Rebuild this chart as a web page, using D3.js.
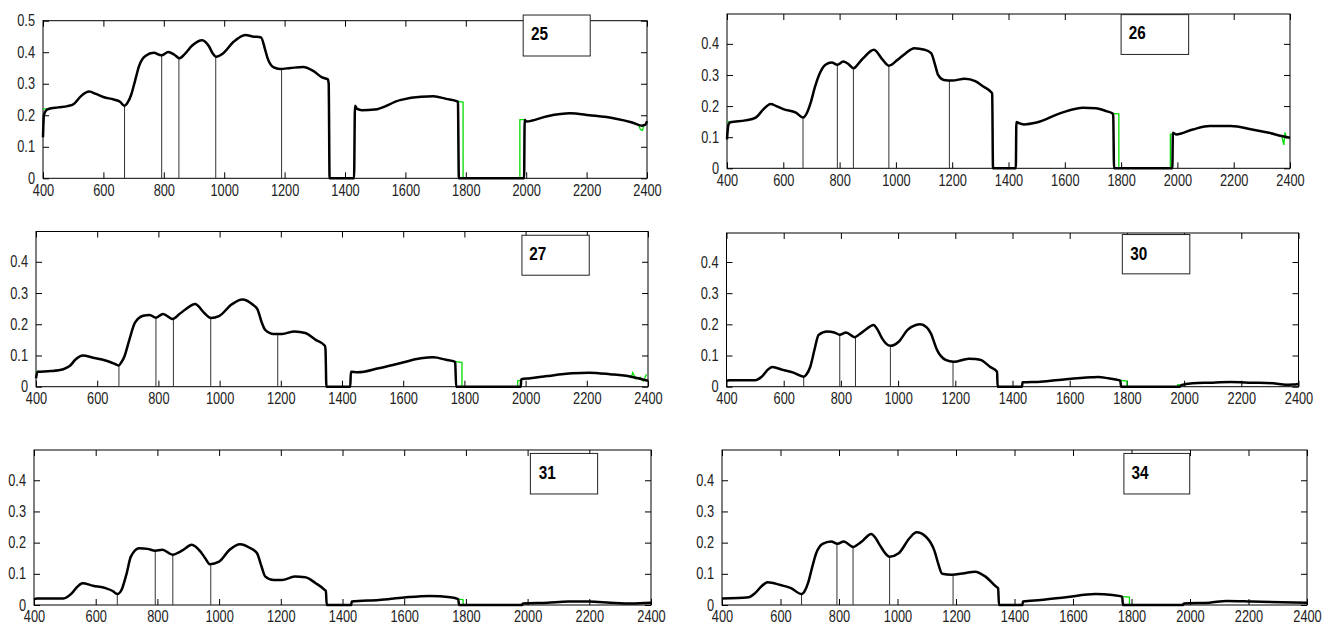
<!DOCTYPE html>
<html>
<head>
<meta charset="utf-8">
<script src="https://cdn.jsdelivr.net/npm/d3@7"></script>
<style>
  html, body { margin: 0; padding: 0; background: #fff; }
  svg { display: block; }
  .axis text { font-family: "Liberation Sans", Arial, sans-serif; font-size: 16px; fill: #222; }
  .axis line { stroke: #000; stroke-width: 1; }
  .sample-label { font-family: "Liberation Sans", Arial, sans-serif; font-weight: bold; font-size: 18px; fill: #000; }
</style>
</head>
<body>
<svg id="fig" width="1323" height="623"></svg>
<script>
// Reflectance spectra (wavelength nm, reflectance) for six samples.
const sampleNames = ["25", "26", "27", "30", "31", "34"];

const xTickValues = [400, 600, 800, 1000, 1200, 1400, 1600, 1800, 2000, 2200, 2400];
const yTicksFirst = [0, 0.1, 0.2, 0.3, 0.4, 0.5];
const yTicksOther = [0, 0.1, 0.2, 0.3, 0.4];

const spectrum25 = [[400,0.13],[403,0.2],[410,0.215],[418,0.22],[450,0.225],[481,0.229],[502,0.236],[525,0.26],[553,0.275],[575,0.268],[600,0.258],[634,0.25],[655,0.243],[669,0.23],[680,0.24],[692,0.265],[705,0.31],[718,0.356],[739,0.388],[767,0.398],[792,0.39],[815,0.401],[835,0.392],[852,0.381],[870,0.395],[895,0.422],[927,0.438],[950,0.418],[962,0.396],[973,0.386],[996,0.396],[1031,0.433],[1070,0.455],[1094,0.45],[1122,0.447],[1135,0.41],[1143,0.383],[1164,0.352],[1185,0.347],[1220,0.35],[1261,0.353],[1296,0.34],[1324,0.32],[1343,0.314],[1346,0.3],[1349,0],[1430,0],[1433,0.23],[1440,0.22],[1456,0.216],[1498,0.218],[1582,0.248],[1652,0.259],[1693,0.26],[1735,0.252],[1772,0.244],[1774,0.24],[1777,0],[1993,0],[1995,0.186],[2000,0.18],[2070,0.197],[2145,0.206],[2209,0.2],[2293,0.19],[2348,0.178],[2383,0.167],[2395,0.17],[2400,0.181]];

const spectrum26 = [[400,0.093],[405,0.14],[412,0.148],[465,0.154],[502,0.163],[530,0.19],[555,0.207],[575,0.2],[600,0.19],[645,0.179],[670,0.163],[685,0.18],[697,0.21],[712,0.26],[727,0.3],[750,0.333],[772,0.34],[792,0.333],[813,0.343],[830,0.336],[850,0.322],[870,0.34],[885,0.355],[922,0.381],[952,0.35],[975,0.33],[1005,0.348],[1035,0.37],[1065,0.386],[1102,0.381],[1125,0.37],[1140,0.33],[1150,0.3],[1170,0.284],[1200,0.282],[1245,0.288],[1282,0.28],[1312,0.262],[1338,0.245],[1342,0.24],[1345,0],[1426,0],[1428,0.149],[1437,0.145],[1455,0.141],[1500,0.147],[1590,0.179],[1665,0.195],[1710,0.193],[1747,0.184],[1770,0.176],[1772,0.17],[1775,0],[1982,0],[1984,0.114],[1995,0.109],[2055,0.125],[2115,0.136],[2190,0.136],[2265,0.125],[2325,0.114],[2370,0.104],[2400,0.098]];

const spectrum27 = [[400,0.027],[405,0.048],[448,0.05],[489,0.056],[510,0.066],[530,0.088],[553,0.1],[586,0.093],[627,0.084],[660,0.072],[670,0.068],[680,0.08],[689,0.097],[705,0.15],[723,0.204],[750,0.227],[771,0.23],[792,0.221],[815,0.233],[847,0.217],[868,0.232],[888,0.247],[920,0.265],[950,0.236],[972,0.22],[998,0.226],[1039,0.263],[1074,0.279],[1108,0.263],[1124,0.247],[1138,0.205],[1149,0.182],[1177,0.169],[1204,0.169],[1245,0.177],[1280,0.172],[1314,0.15],[1344,0.131],[1346,0.12],[1349,0],[1427,0],[1429,0.048],[1452,0.046],[1520,0.059],[1589,0.075],[1658,0.091],[1699,0.094],[1740,0.086],[1768,0.08],[1770,0.076],[1773,0],[1984,0],[1986,0.024],[2015,0.027],[2070,0.034],[2153,0.043],[2208,0.045],[2276,0.04],[2345,0.032],[2400,0.019]];

const spectrum30 = [[400,0.019],[410,0.021],[500,0.021],[523,0.032],[545,0.055],[560,0.063],[597,0.054],[634,0.045],[670,0.032],[680,0.04],[693,0.064],[708,0.12],[722,0.166],[752,0.177],[777,0.174],[796,0.167],[818,0.174],[848,0.159],[865,0.168],[885,0.182],[914,0.198],[930,0.18],[944,0.155],[973,0.131],[1003,0.145],[1033,0.182],[1062,0.198],[1077,0.2],[1100,0.19],[1114,0.172],[1136,0.118],[1166,0.086],[1195,0.08],[1247,0.09],[1270,0.089],[1291,0.085],[1321,0.064],[1346,0.048],[1348,0],[1433,0],[1435,0.014],[1498,0.016],[1587,0.024],[1676,0.03],[1700,0.031],[1735,0.027],[1772,0.021],[1777,0.018],[1780,0],[1985,0],[1990,0.005],[2030,0.011],[2090,0.013],[2163,0.015],[2237,0.013],[2311,0.011],[2356,0.006],[2380,0.007],[2400,0.009]];

const spectrum31 = [[400,0.019],[410,0.021],[495,0.021],[523,0.038],[540,0.058],[557,0.07],[591,0.062],[632,0.054],[655,0.045],[670,0.035],[680,0.042],[686,0.054],[700,0.1],[714,0.155],[741,0.182],[768,0.18],[793,0.174],[816,0.177],[850,0.161],[868,0.168],[884,0.177],[911,0.193],[939,0.172],[955,0.15],[970,0.131],[1000,0.139],[1034,0.177],[1068,0.195],[1102,0.182],[1123,0.166],[1137,0.125],[1150,0.091],[1177,0.08],[1204,0.08],[1245,0.091],[1279,0.089],[1313,0.07],[1343,0.048],[1346,0.045],[1349,0],[1428,0],[1430,0.011],[1518,0.016],[1600,0.024],[1682,0.029],[1750,0.025],[1775,0.019],[1778,0],[1982,0],[1985,0.005],[2064,0.0075],[2132,0.011],[2200,0.011],[2268,0.0075],[2336,0.005],[2400,0.0075]];

const spectrum34 = [[400,0.021],[491,0.025],[513,0.038],[535,0.06],[556,0.073],[600,0.064],[636,0.054],[672,0.035],[683,0.045],[694,0.07],[708,0.12],[722,0.166],[744,0.196],[773,0.204],[795,0.196],[816,0.204],[848,0.186],[865,0.195],[882,0.207],[910,0.228],[925,0.215],[939,0.193],[973,0.155],[1004,0.166],[1041,0.214],[1065,0.233],[1098,0.218],[1127,0.172],[1140,0.13],[1153,0.1],[1185,0.097],[1228,0.102],[1265,0.107],[1301,0.091],[1337,0.059],[1344,0.054],[1347,0],[1427,0],[1429,0.011],[1489,0.016],[1576,0.025],[1677,0.035],[1735,0.032],[1768,0.027],[1771,0],[1975,0],[1980,0.005],[2067,0.0075],[2125,0.013],[2212,0.011],[2313,0.0085],[2400,0.0075]];

// Second (green) measurement: only the stretches where it departs from the black trace.
const green25 = [[[400,0.22],[412,0.22]], [[1770,0.244],[1791,0.242],[1791,0],[1979,0],[1979,0.186],[1993,0.186]], [[2360,0.175],[2372,0.17],[2378,0.155],[2385,0.152],[2390,0.17]]];
const green26 = [[[400,0.15],[410,0.15]], [[1770,0.176],[1792,0.175],[1792,0],[1975,0],[1975,0.11],[1984,0.11]], [[2370,0.105],[2378,0.075],[2382,0.115],[2388,0.095]]];
const green27 = [[[400,0.05],[405,0.05]], [[1768,0.08],[1792,0.078],[1792,0],[1974,0],[1974,0.018],[1986,0.022]], [[2330,0.035],[2345,0.03],[2350,0.045],[2360,0.025],[2375,0.03],[2385,0.018],[2395,0.04]]];
const green30 = [[[1772,0.021],[1800,0.018],[1800,0]], [[1978,0],[1978,0.006],[1990,0.005]]];
const green31 = [[[1775,0.019],[1791,0.017],[1791,0]], [[1980,0],[1980,0.005]]];
const green34 = [[[1768,0.027],[1793,0.025],[1793,0]], [[1975,0],[1975,0.005]]];

// Band markers: wavelength and reflectance where each drop line meets the spectrum.
const markers25 = [[670,0.23],[793,0.39],[850,0.381],[972,0.386],[1190,0.347]];
const markers26 = [[670,0.163],[792,0.334],[849,0.322],[975,0.33],[1190,0.283]];
const markers27 = [[671,0.068],[792,0.221],[849,0.217],[971,0.22],[1190,0.169]];
const markers30 = [[670,0.032],[796,0.167],[851,0.159],[973,0.131],[1192,0.08]];
const markers31 = [[670,0.035],[793,0.174],[850,0.161],[973,0.131]];
const markers34 = [[672,0.035],[793,0.196],[848,0.186],[973,0.155],[1190,0.097]];

// Panel frames in page pixels, plus the sample-label box in data units.
const panels = [
  { name: sampleNames[0], spec: spectrum25, green: green25, marks: markers25, left: 43,  right: 647,  top: 20.7, bottom: 178.3, yMax: 0.5,   yTicks: yTicksFirst, box: [1990, 2212, 0.388, 0.518], textAt: [2016, 0.46] },
  { name: sampleNames[1], spec: spectrum26, green: green26, marks: markers26, left: 727, right: 1290, top: 14,   bottom: 168.3, yMax: 0.496, yTicks: yTicksOther, box: [1800, 2040, 0.366, 0.494], textAt: [1827, 0.435] },
  { name: sampleNames[2], spec: spectrum27, green: green27, marks: markers27, left: 36,  right: 648,  top: 231.5, bottom: 386.7, yMax: 0.497, yTicks: yTicksOther, box: [1988, 2208, 0.357, 0.485], textAt: [2012, 0.426] },
  { name: sampleNames[3], spec: spectrum30, green: green30, marks: markers30, left: 726.5, right: 1298.5, top: 233, bottom: 386.7, yMax: 0.493, yTicks: yTicksOther, box: [1784, 2020, 0.362, 0.488], textAt: [1812, 0.426] },
  { name: sampleNames[4], spec: spectrum31, green: green31, marks: markers31, left: 34,  right: 651,  top: 450, bottom: 605, yMax: 0.497, yTicks: yTicksOther, box: [2009, 2227, 0.356, 0.486], textAt: [2036, 0.424] },
  { name: sampleNames[5], spec: spectrum34, green: green34, marks: markers34, left: 722, right: 1307, top: 450, bottom: 605, yMax: 0.497, yTicks: yTicksOther, box: [1774, 1999, 0.356, 0.486], textAt: [1800, 0.424] }
];

// Tick labels are drawn horizontally condensed.
const squeeze = 0.8;
const labelGap = 8;

const svg = d3.select("#fig");
const yFmt = d => d === 0 ? "0" : d3.format(".1f")(d);

panels.forEach(p => {
  const x = d3.scaleLinear().domain([400, 2400]).range([p.left, p.right]);
  const y = d3.scaleLinear().domain([0, p.yMax]).range([p.bottom, p.top]);
  const g = svg.append("g");

  // Frame
  g.append("rect")
    .attr("x", p.left).attr("y", p.top)
    .attr("width", p.right - p.left).attr("height", p.bottom - p.top)
    .attr("fill", "none").attr("stroke", "#000").attr("stroke-width", 1);

  // Axes with inward ticks on all four sides
  g.append("g").attr("class", "axis")
    .attr("transform", `translate(0,${p.bottom})`)
    .call(d3.axisBottom(x).tickValues(xTickValues).tickFormat(d3.format("d")).tickSizeInner(-6).tickSizeOuter(0).tickPadding(6))
    .selectAll("text").attr("transform", `scale(${squeeze},1)`);
  g.append("g").attr("class", "axis")
    .attr("transform", `translate(${p.left},0)`)
    .call(d3.axisLeft(y).tickValues(p.yTicks).tickFormat(yFmt).tickSizeInner(-6).tickSizeOuter(0).tickPadding(labelGap))
    .selectAll("text").attr("x", -labelGap / squeeze).attr("transform", `scale(${squeeze},1)`);
  g.append("g").attr("class", "axis")
    .attr("transform", `translate(0,${p.top})`)
    .call(d3.axisTop(x).tickValues(xTickValues).tickFormat("").tickSizeInner(-6).tickSizeOuter(0));
  g.append("g").attr("class", "axis")
    .attr("transform", `translate(${p.right},0)`)
    .call(d3.axisRight(y).tickValues(p.yTicks).tickFormat("").tickSizeInner(-6).tickSizeOuter(0));
  g.selectAll(".axis .domain").remove();

  // Drop lines at the marker wavelengths
  g.selectAll("line.marker").data(p.marks).join("line")
    .attr("class", "marker")
    .attr("x1", d => x(d[0])).attr("x2", d => x(d[0]))
    .attr("y1", y(0)).attr("y2", d => y(d[1]))
    .attr("stroke", "#333").attr("stroke-width", 1);

  // Green trace
  const greenLine = d3.line().x(d => x(d[0])).y(d => y(d[1]));
  g.selectAll("path.green").data(p.green).join("path")
    .attr("class", "green")
    .attr("d", greenLine)
    .attr("fill", "none").attr("stroke", "#00dd00").attr("stroke-width", 1.3);

  // Black spectrum
  const line = d3.line().x(d => x(d[0])).y(d => y(d[1])).curve(d3.curveMonotoneX);
  g.append("path").datum(p.spec)
    .attr("d", line)
    .attr("fill", "none").attr("stroke", "#000").attr("stroke-width", 2.5)
    .attr("stroke-linejoin", "round");

  // Sample label box
  const [bx0, bx1, by0, by1] = p.box;
  g.append("rect")
    .attr("x", x(bx0)).attr("y", y(by1))
    .attr("width", x(bx1) - x(bx0)).attr("height", y(by0) - y(by1))
    .attr("fill", "#fff").attr("stroke", "#222").attr("stroke-width", 1);
  g.append("text").attr("class", "sample-label")
    .attr("transform", `translate(${x(p.textAt[0])},${y(p.textAt[1])}) scale(0.85,1)`)
    .attr("dy", "0.36em")
    .text(p.name);
});
</script>
</body>
</html>
